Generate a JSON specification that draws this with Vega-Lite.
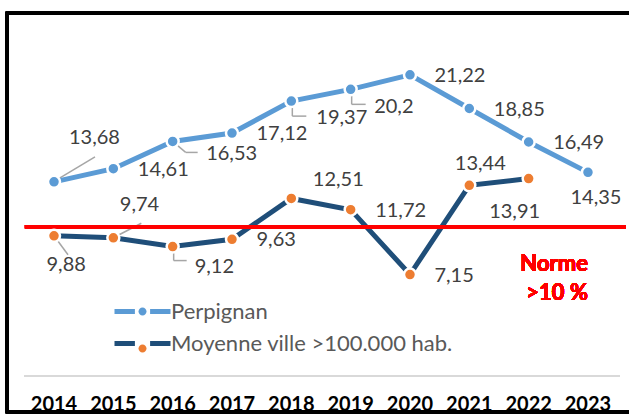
{
  "$schema": "https://vega.github.io/schema/vega-lite/v6.json",
  "width": 622,
  "height": 399,
  "autosize": {"type": "none"},
  "padding": {"left": 7, "top": 13, "right": 0, "bottom": 3},
  "background": "white",
  "config": {"view": {"stroke": null}},
  "data": {"values": [
    {"series": "Perpignan", "year": 2014, "value": 13.68, "label": "13,68"},
    {"series": "Perpignan", "year": 2015, "value": 14.61, "label": "14,61"},
    {"series": "Perpignan", "year": 2016, "value": 16.53, "label": "16,53"},
    {"series": "Perpignan", "year": 2017, "value": 17.12, "label": "17,12"},
    {"series": "Perpignan", "year": 2018, "value": 19.37, "label": "19,37"},
    {"series": "Perpignan", "year": 2019, "value": 20.2, "label": "20,2"},
    {"series": "Perpignan", "year": 2020, "value": 21.22, "label": "21,22"},
    {"series": "Perpignan", "year": 2021, "value": 18.85, "label": "18,85"},
    {"series": "Perpignan", "year": 2022, "value": 16.49, "label": "16,49"},
    {"series": "Perpignan", "year": 2023, "value": 14.35, "label": "14,35"},
    {"series": "Moyenne ville >100.000 hab.", "year": 2014, "value": 9.88, "label": "9,88"},
    {"series": "Moyenne ville >100.000 hab.", "year": 2015, "value": 9.74, "label": "9,74"},
    {"series": "Moyenne ville >100.000 hab.", "year": 2016, "value": 9.12, "label": "9,12"},
    {"series": "Moyenne ville >100.000 hab.", "year": 2017, "value": 9.63, "label": "9,63"},
    {"series": "Moyenne ville >100.000 hab.", "year": 2018, "value": 12.51, "label": "12,51"},
    {"series": "Moyenne ville >100.000 hab.", "year": 2019, "value": 11.72, "label": "11,72"},
    {"series": "Moyenne ville >100.000 hab.", "year": 2020, "value": 7.15, "label": "7,15"},
    {"series": "Moyenne ville >100.000 hab.", "year": 2021, "value": 13.44, "label": "13,44"},
    {"series": "Moyenne ville >100.000 hab.", "year": 2022, "value": 13.91, "label": "13,91"}
  ]},
  "encoding": {
    "x": {"field": "year", "type": "quantitative",
      "scale": {"domain": [2013.2078, 2023.6915], "nice": false, "zero": false}, "axis": null},
    "y": {"field": "value", "type": "quantitative",
      "scale": {"domain": [-2.537, 25.58], "nice": false, "zero": false}, "axis": null}
  },
  "layer": [
    {"mark": {"type": "rule", "color": "#d9d9d9", "strokeWidth": 1.5},
     "encoding": {"x": {"datum": 2013.5, "type": "quantitative", "scale": {"domain": [2013.2078, 2023.6915], "nice": false, "zero": false}, "axis": null}, "x2": {"datum": 2023.54},
                  "y": {"datum": 0, "type": "quantitative", "scale": {"domain": [-2.537, 25.58], "nice": false, "zero": false}, "axis": null}}},

    {"transform": [{"filter": "datum.series=='Perpignan' && datum.year==2014"}],
     "mark": {"type": "rule", "color": "#a6a6a6", "strokeWidth": 1.5, "xOffset": 1, "yOffset": -1, "x2Offset": 41, "y2Offset": -25},
     "encoding": {"x2": {"field": "year"}, "y2": {"field": "value"}}},
    {"transform": [{"filter": "datum.series=='Perpignan' && datum.year==2016"}],
     "mark": {"type": "rule", "color": "#a6a6a6", "strokeWidth": 1.5, "xOffset": 0, "yOffset": 0, "x2Offset": 13, "y2Offset": 11},
     "encoding": {"x2": {"field": "year"}, "y2": {"field": "value"}}},
    {"transform": [{"filter": "datum.series=='Perpignan' && datum.year==2016"}],
     "mark": {"type": "rule", "color": "#a6a6a6", "strokeWidth": 1.5, "xOffset": 13, "yOffset": 11, "x2Offset": 25, "y2Offset": 11},
     "encoding": {"x2": {"field": "year"}, "y2": {"field": "value"}}},
    {"transform": [{"filter": "datum.series=='Perpignan' && (datum.year==2018 || datum.year==2019)"}],
     "mark": {"type": "rule", "color": "#a6a6a6", "strokeWidth": 1.5, "xOffset": 1, "yOffset": 0, "x2Offset": 1, "y2Offset": 15},
     "encoding": {"x2": {"field": "year"}, "y2": {"field": "value"}}},
    {"transform": [{"filter": "datum.series=='Perpignan' && (datum.year==2018 || datum.year==2019)"}],
     "mark": {"type": "rule", "color": "#a6a6a6", "strokeWidth": 1.5, "xOffset": 1, "yOffset": 15, "x2Offset": 15, "y2Offset": 15},
     "encoding": {"x2": {"field": "year"}, "y2": {"field": "value"}}},
    {"transform": [{"filter": "datum.series!='Perpignan' && datum.year==2014"}],
     "mark": {"type": "rule", "color": "#a6a6a6", "strokeWidth": 1.5, "xOffset": 0, "yOffset": 0, "x2Offset": 14, "y2Offset": 19},
     "encoding": {"x2": {"field": "year"}, "y2": {"field": "value"}}},
    {"transform": [{"filter": "datum.series!='Perpignan' && datum.year==2015"}],
     "mark": {"type": "rule", "color": "#a6a6a6", "strokeWidth": 1.5, "xOffset": 0, "yOffset": 0, "x2Offset": 28, "y2Offset": -14.5},
     "encoding": {"x2": {"field": "year"}, "y2": {"field": "value"}}},
    {"transform": [{"filter": "datum.series!='Perpignan' && datum.year==2016"}],
     "mark": {"type": "rule", "color": "#a6a6a6", "strokeWidth": 1.5, "xOffset": 1, "yOffset": 0, "x2Offset": 1, "y2Offset": 14},
     "encoding": {"x2": {"field": "year"}, "y2": {"field": "value"}}},
    {"transform": [{"filter": "datum.series!='Perpignan' && datum.year==2016"}],
     "mark": {"type": "rule", "color": "#a6a6a6", "strokeWidth": 1.5, "xOffset": 1, "yOffset": 14, "x2Offset": 14, "y2Offset": 14},
     "encoding": {"x2": {"field": "year"}, "y2": {"field": "value"}}},

    {"mark": {"type": "line", "strokeWidth": 5},
     "encoding": {"stroke": {"field": "series", "type": "nominal",
       "scale": {"domain": ["Perpignan", "Moyenne ville >100.000 hab."], "range": ["#5b9bd5", "#1f4e79"]},
       "legend": {"orient": "none", "legendX": 123, "legendY": 286, "title": null, "padding": 0, "direction": "vertical",
         "symbolType": "M-2.8,0H-0.76M0.76,0H2.8", "symbolSize": 400, "symbolStrokeWidth": 5,
         "labelFont": "Lato", "labelFontSize": 22, "labelColor": "#595959", "labelOffset": 16, "rowPadding": 8, "labelLimit": 500}}}},

    {"mark": {"type": "rule", "color": "#ff0000", "strokeWidth": 3.5},
     "encoding": {"x": {"datum": 2013.51, "type": "quantitative", "scale": {"domain": [2013.2078, 2023.6915], "nice": false, "zero": false}, "axis": null}, "x2": {"datum": 2023.64},
                  "y": {"datum": 10.52, "type": "quantitative", "scale": {"domain": [-2.537, 25.58], "nice": false, "zero": false}, "axis": null}}},

    {"mark": {"type": "circle", "size": 144, "stroke": "white", "strokeWidth": 2.5, "opacity": 1},
     "encoding": {"fill": {"field": "series", "type": "nominal", "sort": ["Perpignan", "Moyenne ville >100.000 hab."],
       "scale": {"range": ["#5b9bd5", "#ed7d31"]},
       "legend": {"orient": "none", "legendX": 123, "legendY": 286, "title": null, "padding": 0, "direction": "vertical",
         "symbolType": "M0.4,0A0.4,0.4,0,1,1,-0.4,0A0.4,0.4,0,1,1,0.4,0Z", "symbolSize": 400, "symbolStrokeWidth": 5, "symbolStrokeColor": "transparent",
         "labelFont": "Lato", "labelFontSize": 22, "labelExpr": "''", "labelOffset": 16, "rowPadding": 8, "labelLimit": 500}}}},

    {"transform": [{"filter": "(datum.series=='Perpignan' && indexof([2015,2017,2020,2021,2022], datum.year)>=0) || (datum.series!='Perpignan' && indexof([2017,2019,2020], datum.year)>=0)"}],
     "mark": {"type": "text", "font": "Lato", "fontSize": 20, "color": "#404040", "align": "left", "baseline": "middle", "dx": 24.5, "dy": 1},
     "encoding": {"text": {"field": "label"}}},
    {"transform": [{"filter": "datum.series=='Perpignan' && datum.year==2014"}],
     "mark": {"type": "text", "font": "Lato", "fontSize": 20, "color": "#404040", "align": "left", "baseline": "middle", "dx": 15, "dy": -44},
     "encoding": {"text": {"field": "label"}}},
    {"transform": [{"filter": "datum.series=='Perpignan' && datum.year==2016"}],
     "mark": {"type": "text", "font": "Lato", "fontSize": 20, "color": "#404040", "align": "left", "baseline": "middle", "dx": 33.5, "dy": 12.5},
     "encoding": {"text": {"field": "label"}}},
    {"transform": [{"filter": "datum.series=='Perpignan' && datum.year==2018"}],
     "mark": {"type": "text", "font": "Lato", "fontSize": 20, "color": "#404040", "align": "left", "baseline": "middle", "dx": 25, "dy": 16.5},
     "encoding": {"text": {"field": "label"}}},
    {"transform": [{"filter": "datum.series=='Perpignan' && datum.year==2019"}],
     "mark": {"type": "text", "font": "Lato", "fontSize": 20, "color": "#404040", "align": "left", "baseline": "middle", "dx": 23.5, "dy": 17.5},
     "encoding": {"text": {"field": "label"}}},
    {"transform": [{"filter": "datum.series=='Perpignan' && datum.year==2023"}],
     "mark": {"type": "text", "font": "Lato", "fontSize": 20, "color": "#404040", "align": "left", "baseline": "middle", "dx": -17.5, "dy": 25.5},
     "encoding": {"text": {"field": "label"}}},
    {"transform": [{"filter": "datum.series!='Perpignan' && datum.year==2014"}],
     "mark": {"type": "text", "font": "Lato", "fontSize": 20, "color": "#404040", "align": "left", "baseline": "middle", "dx": -7.5, "dy": 29},
     "encoding": {"text": {"field": "label"}}},
    {"transform": [{"filter": "datum.series!='Perpignan' && datum.year==2015"}],
     "mark": {"type": "text", "font": "Lato", "fontSize": 20, "color": "#404040", "align": "left", "baseline": "middle", "dx": 6.5, "dy": -33},
     "encoding": {"text": {"field": "label"}}},
    {"transform": [{"filter": "datum.series!='Perpignan' && datum.year==2016"}],
     "mark": {"type": "text", "font": "Lato", "fontSize": 20, "color": "#404040", "align": "left", "baseline": "middle", "dx": 22, "dy": 20},
     "encoding": {"text": {"field": "label"}}},
    {"transform": [{"filter": "datum.series!='Perpignan' && datum.year==2018"}],
     "mark": {"type": "text", "font": "Lato", "fontSize": 20, "color": "#404040", "align": "left", "baseline": "middle", "dx": 21.5, "dy": -18},
     "encoding": {"text": {"field": "label"}}},
    {"transform": [{"filter": "datum.series!='Perpignan' && datum.year==2021"}],
     "mark": {"type": "text", "font": "Lato", "fontSize": 20, "color": "#404040", "align": "left", "baseline": "middle", "dx": -14.5, "dy": -21},
     "encoding": {"text": {"field": "label"}}},
    {"transform": [{"filter": "datum.series!='Perpignan' && datum.year==2022"}],
     "mark": {"type": "text", "font": "Lato", "fontSize": 20, "color": "#404040", "align": "left", "baseline": "middle", "dx": -39.5, "dy": 33.5},
     "encoding": {"text": {"field": "label"}}},

    {"mark": {"type": "text", "text": ["Norme", ">10 %"], "font": "Lato", "fontSize": 22, "fontWeight": "bold", "color": "#ff0000", "align": "right", "baseline": "middle", "lineHeight": 29},
     "encoding": {"x": {"datum": 2023, "type": "quantitative", "scale": {"domain": [2013.2078, 2023.6915], "nice": false, "zero": false}, "axis": null},
                  "y": {"datum": 7.86, "type": "quantitative", "scale": {"domain": [-2.537, 25.58], "nice": false, "zero": false}, "axis": null}}},

    {"transform": [{"filter": "datum.series=='Perpignan'"}],
     "mark": {"type": "text", "font": "Lato", "fontSize": 20, "fontWeight": "bold", "color": "#000000", "align": "center", "baseline": "alphabetic"},
     "encoding": {"text": {"field": "year", "format": "d"},
                  "y": {"datum": -2.5, "type": "quantitative", "scale": {"domain": [-2.537, 25.58], "nice": false, "zero": false}, "axis": null}}},

    {"mark": {"type": "rect", "fill": "transparent", "stroke": "#000000", "strokeWidth": 2.5},
     "encoding": {"x": {"datum": 2013.2078, "type": "quantitative", "scale": {"domain": [2013.2078, 2023.6915], "nice": false, "zero": false}, "axis": null}, "x2": {"datum": 2023.9},
                  "y": {"datum": 25.58, "type": "quantitative", "scale": {"domain": [-2.537, 25.58], "nice": false, "zero": false}, "axis": null}, "y2": {"datum": -2.537}}}
  ]
}
